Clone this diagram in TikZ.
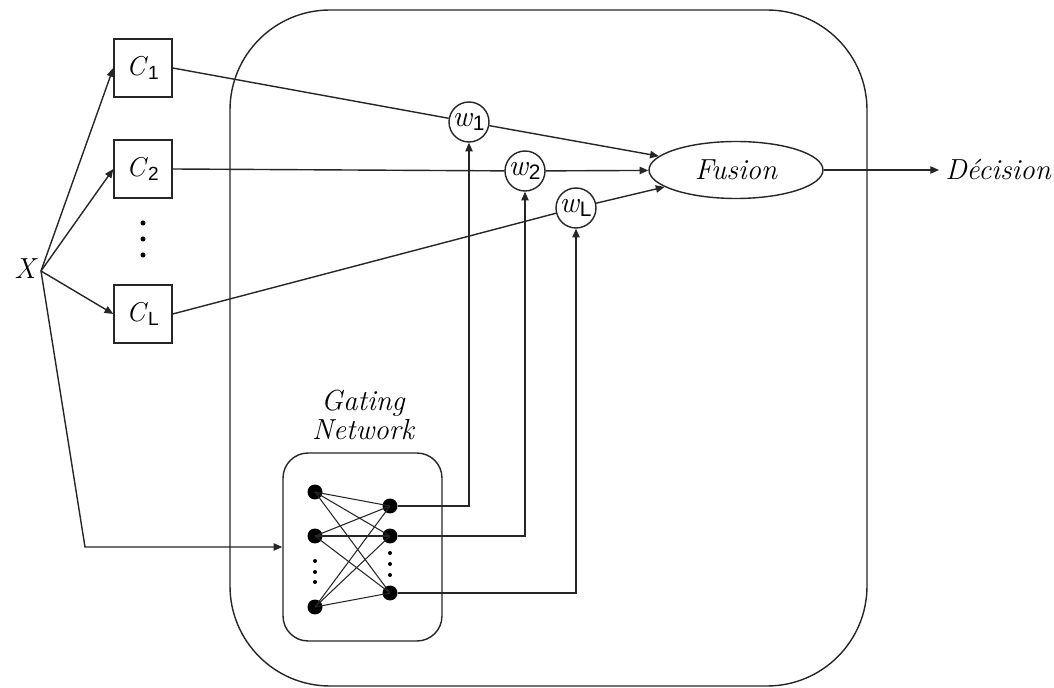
\documentclass[tikz,border=0pt]{standalone}
\usepackage{fontspec}
\setsansfont{Liberation Sans}
\usetikzlibrary{arrows.meta,shapes.geometric}
\tikzset{
    line/.style={draw=black!85, line width=0.8pt},
    arr/.style={line, -{Triangle[length=5pt,width=4.2pt]}},
    clf/.style={line, minimum size=1.16cm, inner sep=0pt, font=\fontsize{15.5}{17}\selectfont},
    weight/.style={line, circle, minimum size=0.8cm, inner sep=0pt, font=\fontsize{17}{17}\selectfont},
    neuron/.style={circle, fill=black, minimum size=0.3cm, inner sep=0pt},
    dot/.style={circle, fill=black, minimum size=0.1cm, inner sep=0pt},
    lab/.style={font=\fontsize{16.5}{17}\selectfont\itshape}
}
\newcommand{\clsub}[1]{\textsubscript{\sffamily #1}}

\begin{document}
\begin{tikzpicture}[x=0.02cm, y=-0.02cm]
    \useasboundingbox (0,0) rectangle (1054,688);
    % outer frame
    \draw[line, rounded corners=2cm] (230,10) rectangle (867,686);

    \node[lab] (X) at (25,269) {X};
    \coordinate (xo) at (41,271);
    \node[clf] (C1) at (143,68) {\textit{C}\clsub{1}};
    \node[clf] (C2) at (143,169) {\textit{C}\clsub{2}};
    \node[clf] (CL) at (143,314) {\textit{C}\clsub{L}};
    \node[dot] (cd1) at (143,223) {};
    \node[dot] (cd2) at (143,239) {};
    \node[dot] (cd3) at (143,255) {};

    \node[weight] (w1) at (469,122) {\textit{w}\clsub{1}};
    \node[weight] (w2) at (525,171) {\textit{w}\clsub{2}};
    \node[weight] (wL) at (576,208) {\textit{w}\clsub{L}};
    \node[lab, line, ellipse, minimum width=3.48cm, minimum height=1.14cm] (fus) at (736,170) {Fusion};
    \node[lab] (dec) at (998,170) {Décision};

    % gating network
    \node[lab, align=center, font=\fontsize{16.5}{17}\selectfont\itshape] (gatelbl) at (363,415) {Gating\\Network};
    \node[line, rounded corners=0.5cm, minimum width=3.18cm, minimum height=3.76cm] (gate) at (362.5,547) {};
    \node[neuron] (L1) at (315,492) {};
    \node[neuron] (L2) at (315,536) {};
    \node[neuron] (L3) at (315,607) {};
    \node[neuron] (R1) at (390,506) {};
    \node[neuron] (R2) at (390,536) {};
    \node[neuron] (R3) at (390,593) {};
    \foreach \y in {561,572,582} \node[dot, minimum size=0.08cm] at (315,\y) {};
    \foreach \y in {553,564,575} \node[dot, minimum size=0.08cm] at (390,\y) {};
    \foreach \l in {L1,L2,L3}
        \foreach \r in {R1,R2,R3}
            \draw[line, line width=0.6pt] (\l.center) -- (\r.center);

    \draw[arr] (xo) -- (C1.west);
    \draw[arr] (xo) -- (C2.west);
    \draw[arr] (xo) -- (CL.west);
    \draw[arr] (xo) -- (85,547) -- (gate.west);

    \draw[line] (C1.east) -- (w1);
    \draw[line] (C2.east) -- (w2);
    \draw[line] (CL.east) -- (wL);
    \draw[arr] (w1) -- (fus);
    \draw[arr] (w2) -- (fus);
    \draw[arr] (wL) -- (fus);
    \draw[arr] (fus) -- (dec);

    \draw[arr] (R1) -| (w1);
    \draw[arr] (R2) -| (w2);
    \draw[arr] (R3) -| (wL);
\end{tikzpicture}
\end{document}
